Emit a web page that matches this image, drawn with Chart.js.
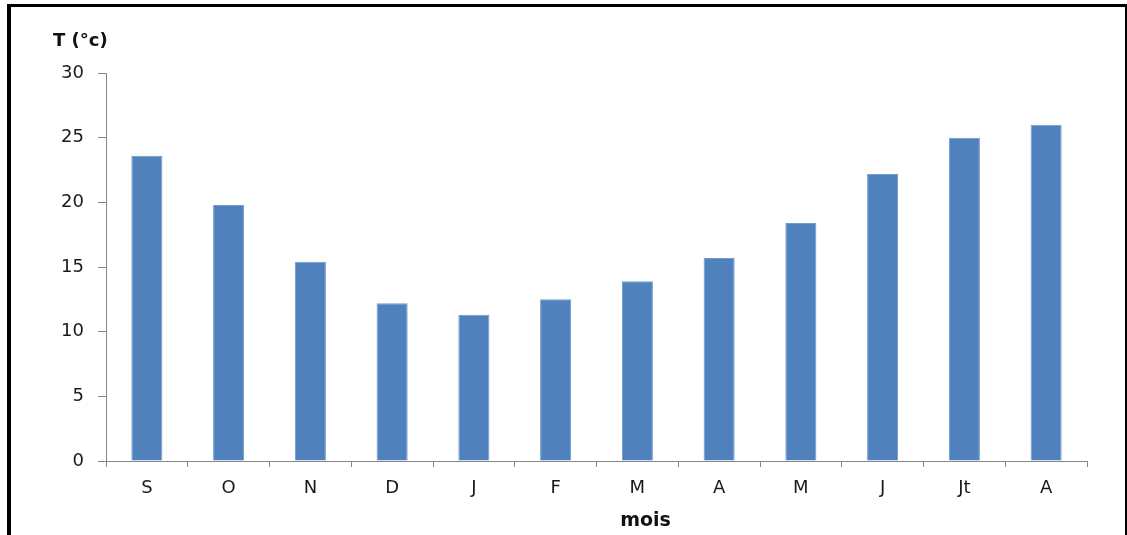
<!DOCTYPE html>
<html>
<head>
<meta charset="utf-8">
<script src="https://cdn.jsdelivr.net/npm/chart.js@4/dist/chart.umd.min.js"></script>
<style>
  html, body { margin: 0; padding: 0; background: #fff; overflow: hidden; }
  #frame {
    position: absolute; left: 7px; top: 4px; width: 1114px; height: 600px;
    border-left: 4px solid #000; border-top: 3px solid #000; border-right: 2px solid #000;
  }
  #chart { position: absolute; left: 0; top: 0; }
</style>
</head>
<body>
<div id="frame"></div>
<canvas id="chart" width="1127" height="535"></canvas>
<script>
const months = ["S", "O", "N", "D", "J", "F", "M", "A", "M", "J", "Jt", "A"];
const temperatures = [23.6, 19.8, 15.4, 12.2, 11.3, 12.5, 13.9, 15.7, 18.4, 22.2, 25.0, 26.0];
const yTicks = [0, 5, 10, 15, 20, 25, 30];

const axisGrey = "#868686";
const labelFont = { family: "DejaVu Sans", size: 18 };

// axis captions: unit above the value axis, "mois" under the months
const axisCaptions = {
  id: "axisCaptions",
  afterDraw(chart) {
    const { ctx, chartArea } = chart;
    ctx.save();
    ctx.fillStyle = "#111";
    ctx.textBaseline = "middle";
    ctx.font = "bold 18px 'DejaVu Sans'";
    ctx.textAlign = "left";
    ctx.fillText("T (°c)", chartArea.left - 53, chartArea.top - 32);
    ctx.font = "bold 19px 'DejaVu Sans'";
    ctx.textAlign = "center";
    ctx.fillText("mois", (chartArea.left + chartArea.right) / 2 + 49, chartArea.bottom + 60);
    ctx.restore();
  }
};

new Chart(document.getElementById("chart"), {
  type: "bar",
  data: {
    labels: months,
    datasets: [{
      data: temperatures,
      backgroundColor: "#4F81BD",
      borderColor: "#7199cb",
      borderWidth: 1,
      barPercentage: 0.38,
      categoryPercentage: 1
    }]
  },
  options: {
    responsive: false,
    animation: false,
    layout: { padding: { left: 56, right: 40, top: 73, bottom: 0 } },
    plugins: { legend: { display: false }, tooltip: { enabled: false } },
    scales: {
      x: {
        grid: { display: true, offset: true, drawOnChartArea: false, tickLength: 6, color: axisGrey },
        border: { color: axisGrey, width: 1 },
        ticks: { color: "#1a1a1a", font: labelFont, padding: 11, maxRotation: 0 },
        afterFit(scale) { scale.height = 74; }
      },
      y: {
        min: yTicks[0],
        max: yTicks[yTicks.length - 1],
        afterBuildTicks(scale) { scale.ticks = yTicks.map(v => ({ value: v })); },
        grid: { display: true, drawOnChartArea: false, tickLength: 8, color: axisGrey },
        border: { color: axisGrey, width: 1 },
        ticks: { color: "#1a1a1a", font: labelFont, padding: 14 },
        afterFit(scale) { scale.width = 50; }
      }
    }
  },
  plugins: [axisCaptions]
});
</script>
</body>
</html>
